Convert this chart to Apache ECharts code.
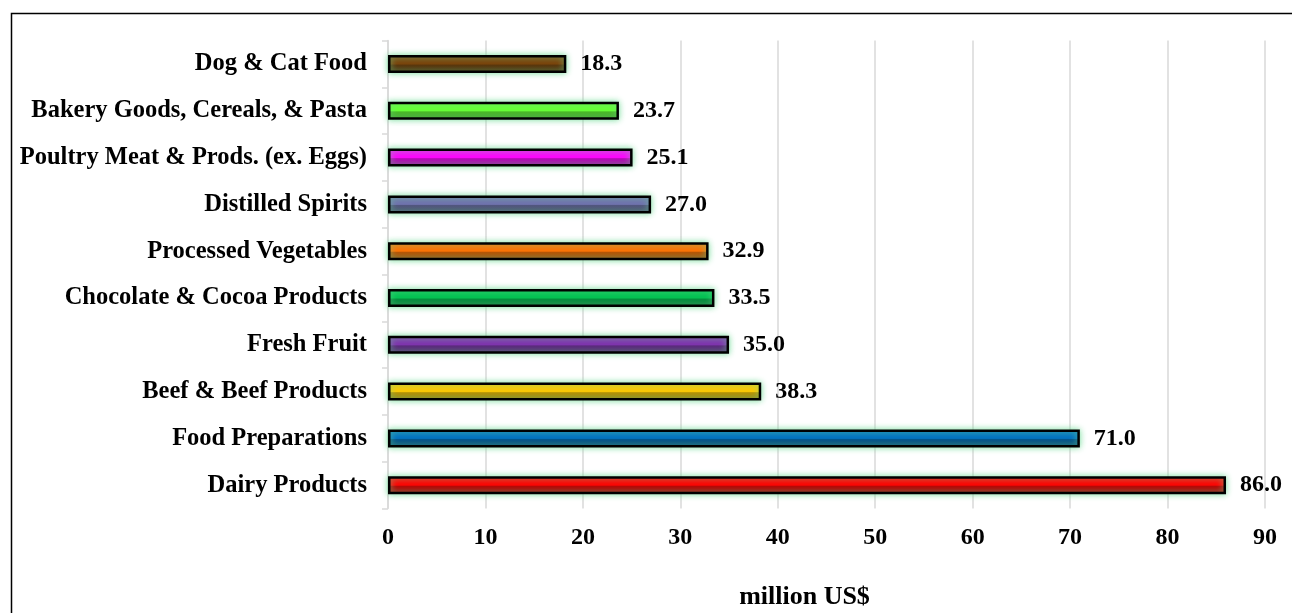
<!DOCTYPE html>
<html>
<head>
<meta charset="utf-8">
<script src="https://cdn.jsdelivr.net/npm/echarts@6/dist/echarts.min.js"></script>
<style>html,body{margin:0;padding:0;background:#fff}#c{width:1292px;height:613px}</style>
</head>
<body>
<div id="c"></div>
<script>
var categories = ['Dairy Products','Food Preparations','Beef & Beef Products','Fresh Fruit','Chocolate & Cocoa Products','Processed Vegetables','Distilled Spirits','Poultry Meat & Prods. (ex. Eggs)','Bakery Goods, Cereals, & Pasta','Dog & Cat Food'];
var values = [86.0, 71.0, 38.3, 35.0, 33.5, 32.9, 27.0, 25.1, 23.7, 18.3];
var colors = ['#ff0000','#0070c0','#ffc800','#7f30ae','#00c050','#ff7000','#7070ae','#ff00ff','#66ff33','#7a4008'];
var xTicks = [0,10,20,30,40,50,60,70,80,90];

function shade(hex, f){
  var r=parseInt(hex.substr(1,2),16), g=parseInt(hex.substr(3,2),16), b=parseInt(hex.substr(5,2),16);
  r=Math.round(r*f); g=Math.round(g*f); b=Math.round(b*f);
  return 'rgb('+r+','+g+','+b+')';
}

var chart = echarts.init(document.getElementById('c'));
var font = '"Liberation Serif","Times New Roman",serif';
chart.setOption({
  animation:false,
  graphic:[{type:'rect',left:9,top:11,shape:{width:1310,height:640},style:{fill:'none',stroke:'#000',lineWidth:1.5},silent:true}],
  grid:{left:388,right:27,top:40.6,bottom:104.4,containLabel:false,outerBoundsMode:'none'},
  xAxis:{type:'value',min:0,max:90,interval:10,
    axisLine:{show:false},axisTick:{show:false},
    splitLine:{show:true,lineStyle:{color:'#d9d9d9',width:1.5}},
    axisLabel:{fontFamily:font,fontWeight:'bold',fontSize:24,color:'#000',margin:17,
      formatter:function(v){return xTicks.indexOf(v)>=0?String(v):'';}},
    name:'million US$',nameLocation:'middle',nameGap:76,
    nameTextStyle:{fontFamily:font,fontWeight:'bold',fontSize:26,color:'#000',padding:[0,44,0,0]}
  },
  yAxis:{type:'category',data:categories,
    axisLine:{show:true,lineStyle:{color:'#d9d9d9',width:1.5}},
    axisTick:{show:true,length:6,lineStyle:{color:'#d9d9d9',width:1.5}},
    axisLabel:{fontFamily:font,fontWeight:'bold',fontSize:24.5,color:'#000',margin:21}
  },
  series:[{type:'bar',barWidth:18,
    data:values.map(function(v,i){
      var c=colors[i];
      return {value:v,itemStyle:{
        color:{type:'linear',x:0,y:0,x2:0,y2:1,colorStops:[
          {offset:0,color:shade(c,1.0)},{offset:0.5,color:c},{offset:0.56,color:shade(c,0.72)},{offset:1,color:shade(c,0.6)}]},
        borderColor:'#000',borderWidth:2.5,
        shadowColor:'rgba(110,220,150,0.9)',shadowBlur:6}};
    }),
    label:{show:true,position:'right',distance:14,fontFamily:font,fontWeight:'bold',fontSize:24,color:'#000',
      formatter:function(p){return p.value.toFixed(1);}}
  }]
});
</script>
</body>
</html>
